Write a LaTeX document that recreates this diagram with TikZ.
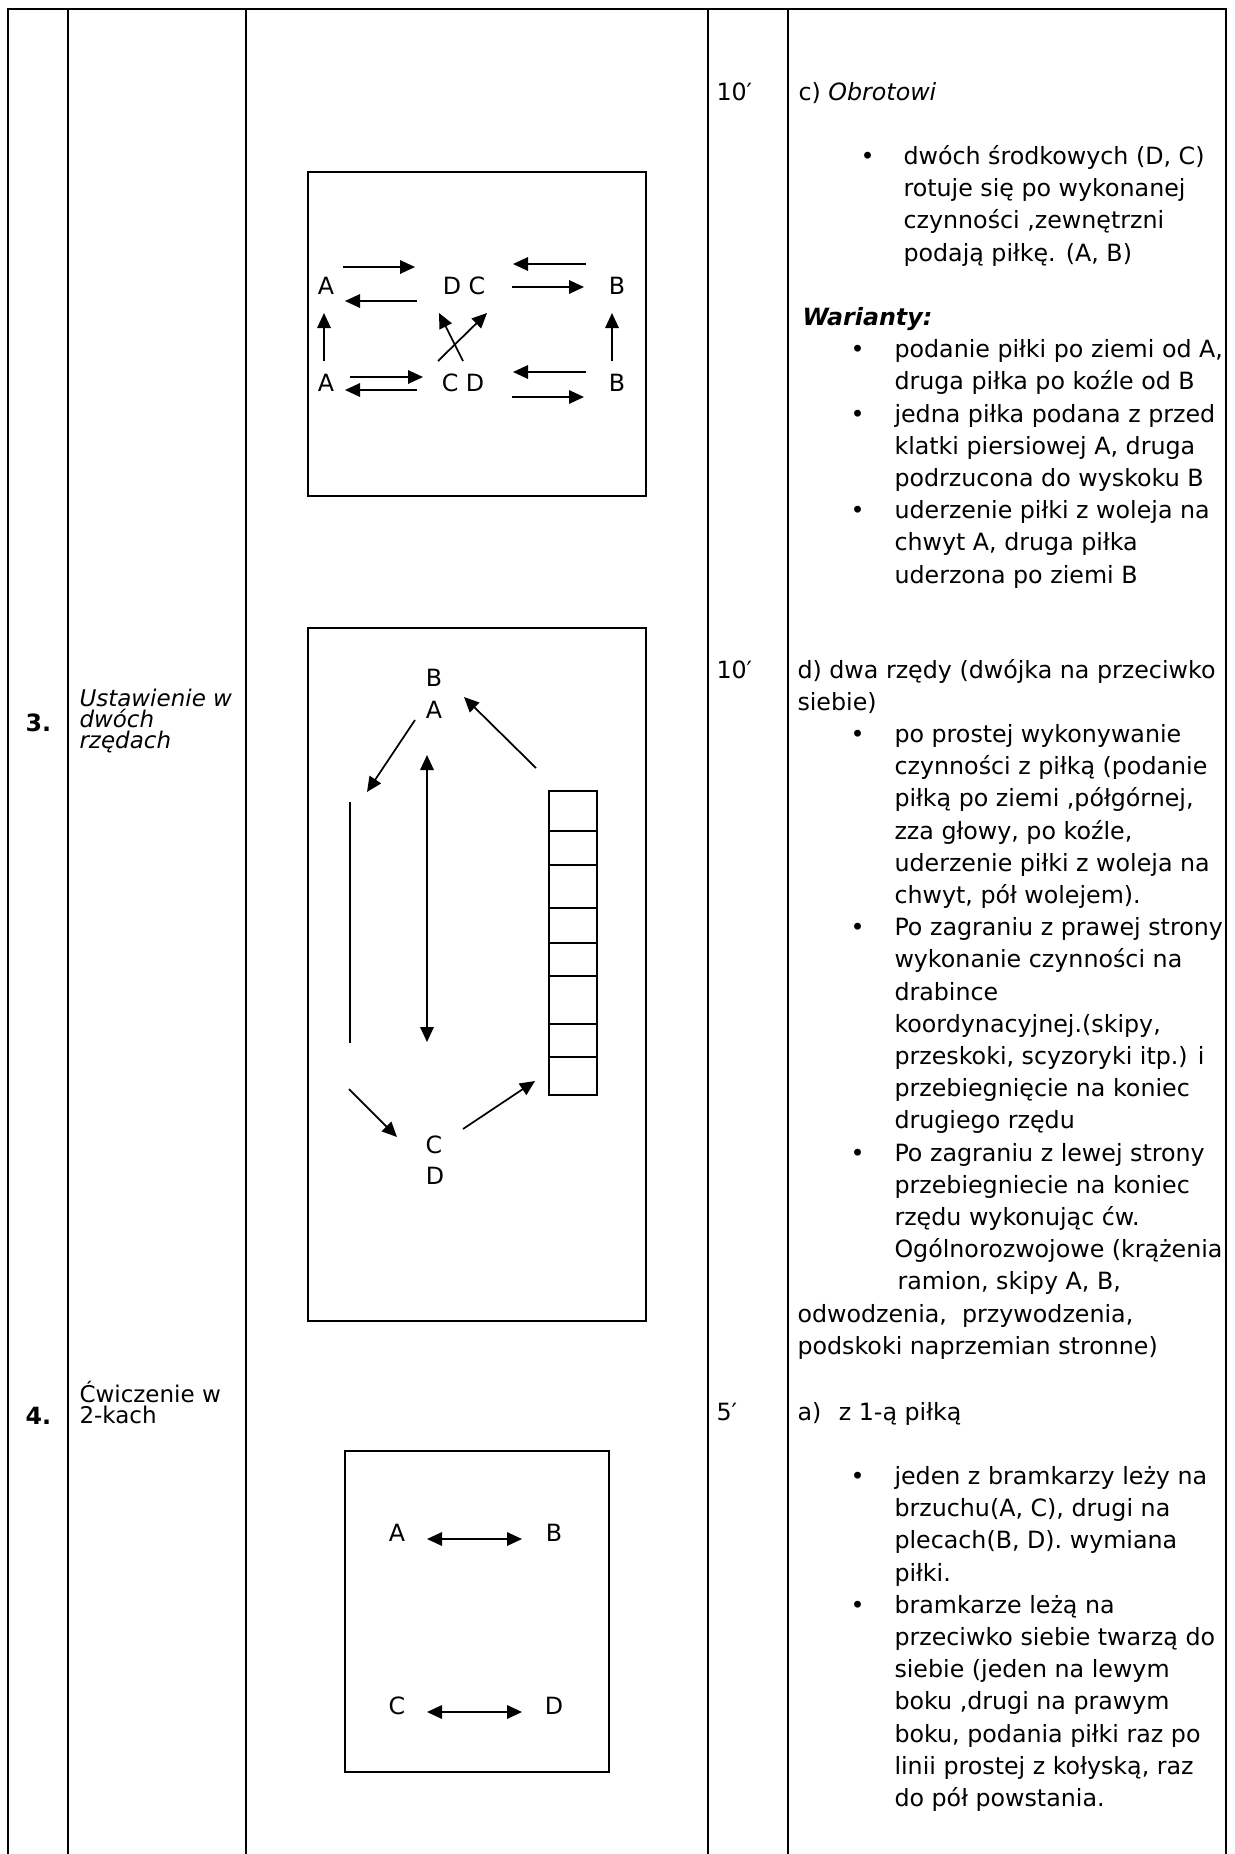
\documentclass[tikz,border=0pt]{standalone}
\usepackage{fontspec}
\setmainfont{DejaVu Sans}
\usetikzlibrary{arrows.meta}
% several lines, baseline of the first one
\newcommand{\lines}[1]{\begin{tabular}[t]{@{}l@{}}#1\end{tabular}}

\begin{document}
\begin{tikzpicture}[x=0.4pt,y=-0.4pt,
        grid/.style={line width=1.05pt},
        field/.style={draw,line width=0.85pt},
        pass/.style={line width=0.7pt,-{Triangle[length=6pt,width=5.4pt]}},
        twoway/.style={line width=0.7pt,{Triangle[length=6pt,width=5.4pt]}-{Triangle[length=6pt,width=5.4pt]}},
        player/.style={inner sep=0pt,font=\fontsize{9.5}{11}\selectfont},
        txt/.style={anchor=base west,inner sep=0pt,font=\fontsize{9.5}{12.88}\selectfont},
        side/.style={anchor=base west,align=left,inner sep=0pt,font=\fontsize{9.2}{8.4}\selectfont},
        dot/.style={anchor=base west,inner sep=0pt,font=\fontsize{9.5}{12.88}\selectfont}
    ]
    \useasboundingbox (0,0) rectangle (1234,1854);

    % table
    \draw[grid] (8,1854) -- (8,9) -- (1226,9) -- (1226,1854);
    \foreach \x in {68,246,708,788}
        \draw[grid] (\x,9) -- (\x,1854);

    % left columns (side nodes sit on their last line)
    \node[side,font=\fontsize{9.5}{12}\selectfont\bfseries] (nr3) at (25,731) {3.};
    \node[side,font=\fontsize{9.2}{8.4}\selectfont\itshape] (ex3) at (79,748) {Ustawienie w\\dwóch\\rzędach};
    \node[side,font=\fontsize{9.5}{12}\selectfont\bfseries] (nr4) at (25,1424) {4.};
    \node[side] (ex4) at (79,1423) {Ćwiczenie w\\2-kach};

    % times
    \node[txt] (t1) at (716,100) {10′};
    \node[txt] (t2) at (716,678) {10′};
    \node[txt] (t3) at (716,1420) {5′};

    % field 1: obrotowi
    \draw[field] (308,172) rectangle (646,496);
    \node[player] (aU) at (326,286) {A};
    \node[player] (dcU) at (464,286) {D C};
    \node[player] (bU) at (617,286) {B};
    \node[player] (aL) at (326,383) {A};
    \node[player] (cdL) at (463,383) {C D};
    \node[player] (bL) at (617,383) {B};
    \coordinate (p1) at (343,267); \coordinate (p2) at (415,267);
    \coordinate (p3) at (417,301); \coordinate (p4) at (345,301);
    \coordinate (p5) at (586,264); \coordinate (p6) at (513,264);
    \coordinate (p7) at (512,287); \coordinate (p8) at (584,287);
    \coordinate (p9) at (324,361); \coordinate (p10) at (324,313);
    \coordinate (p11) at (612,361); \coordinate (p12) at (612,313);
    \coordinate (p13) at (438,361); \coordinate (p14) at (487,313);
    \coordinate (p15) at (463,361); \coordinate (p16) at (439,313);
    \coordinate (p17) at (350,377); \coordinate (p18) at (423,377);
    \coordinate (p19) at (417,390); \coordinate (p20) at (345,390);
    \coordinate (p21) at (586,372); \coordinate (p22) at (513,372);
    \coordinate (p23) at (512,397); \coordinate (p24) at (584,397);
    \foreach \s/\e in {p1/p2,p3/p4,p5/p6,p7/p8,p9/p10,p11/p12,p13/p14,p15/p16,p17/p18,p19/p20,p21/p22,p23/p24}
        \draw[pass] (\s) -- (\e);

    % field 2: dwa rzedy
    \draw[field] (308,628) rectangle (646,1321);
    \node[player] (bTop) at (434,678) {B};
    \node[player] (aTop) at (434,710) {A};
    \node[player] (cBot) at (434,1145) {C};
    \node[player] (dBot) at (435,1176) {D};
    \coordinate (rowTop) at (350,802); \coordinate (rowBot) at (350,1043);
    \draw[line width=0.5pt] (rowTop) -- (rowBot);
    \coordinate (runTop) at (427,755); \coordinate (runBot) at (427,1042);
    \draw[twoway] (runTop) -- (runBot);
    \coordinate (q1) at (415,720); \coordinate (q2) at (367,792);
    \coordinate (q3) at (536,768); \coordinate (q4) at (464,697);
    \coordinate (q5) at (349,1089); \coordinate (q6) at (397,1137);
    \coordinate (q7) at (463,1129); \coordinate (q8) at (535,1081);
    \foreach \s/\e in {q1/q2,q3/q4,q5/q6,q7/q8}
        \draw[pass] (\s) -- (\e);
    % ladder
    \draw[line width=0.7pt] (549,791) rectangle (597,1095);
    \foreach \y in {831,865,908,943,976,1024,1057}
        \draw[line width=0.7pt] (549,\y) -- (597,\y);

    % field 3: dwojki
    \draw[field] (345,1451) rectangle (609,1772);
    \node[player] (aPair) at (397,1533) {A};
    \node[player] (bPair) at (554,1533) {B};
    \node[player] (cPair) at (397,1706) {C};
    \node[player] (dPair) at (554,1706) {D};
    \coordinate (r1) at (427,1539); \coordinate (r2) at (522,1539);
    \coordinate (r3) at (427,1712); \coordinate (r4) at (522,1712);
    \draw[twoway] (r1) -- (r2);
    \draw[twoway] (r3) -- (r4);

    % description: c)
    \node[txt] (c) at (798,100) {c) \textit{Obrotowi}};
    \node[dot] (c1dot) at (860,164.4) {\textbullet};
    \node[txt] (c1) at (903,164.4) {\lines{dwóch środkowych (D, C)\\rotuje się po wykonanej\\czynności ,zewnętrzni\\podają piłkę. (A, B)}};
    \node[txt] (war) at (802,325.4) {\textbf{\textit{Warianty:}}};
    \node[dot] (w1dot) at (850,357.6) {\textbullet};
    \node[txt] (w1) at (894,357.6) {\lines{podanie piłki po ziemi od A,\\druga piłka po koźle od B}};
    \node[dot] (w2dot) at (850,422) {\textbullet};
    \node[txt] (w2) at (894,422) {\lines{jedna piłka podana z przed\\klatki piersiowej A, druga\\podrzucona do wyskoku B}};
    \node[dot] (w3dot) at (850,518.6) {\textbullet};
    \node[txt] (w3) at (894,518.6) {\lines{uderzenie piłki z woleja na\\chwyt A, druga piłka\\uderzona po ziemi B}};

    % description: d)
    \node[txt] (d) at (797,678) {\lines{d) dwa rzędy (dwójka na przeciwko\\siebie)}};
    \node[dot] (d1dot) at (850,742.4) {\textbullet};
    \node[txt] (d1) at (894,742.4) {\lines{po prostej wykonywanie\\czynności z piłką (podanie\\piłką po ziemi ,półgórnej,\\zza głowy, po koźle,\\uderzenie piłki z woleja na\\chwyt, pół wolejem).}};
    \node[dot] (d2dot) at (850,935.6) {\textbullet};
    \node[txt] (d2) at (894,935.6) {\lines{Po zagraniu z prawej strony\\wykonanie czynności na\\drabince\\koordynacyjnej.(skipy,\\przeskoki, scyzoryki itp.) i\\przebiegnięcie na koniec\\drugiego rzędu}};
    \node[dot] (d3dot) at (850,1161) {\textbullet};
    \node[txt] (d3) at (894,1161) {\lines{Po zagraniu z lewej strony\\przebiegniecie na koniec\\rzędu wykonując ćw.\\Ogólnorozwojowe (krążenia\\\hspace{1.2pt}ramion, skipy A, B,}};
    \node[txt] (d3b) at (797,1322) {\lines{odwodzenia,\ \ przywodzenia,\\podskoki naprzemian stronne)}};

    % description: a)
    \node[txt] (a) at (797,1420) {a)\hspace{4pt} z 1-ą piłką};
    \node[dot] (a1dot) at (850,1484.4) {\textbullet};
    \node[txt] (a1) at (894,1484.4) {\lines{jeden z bramkarzy leży na\\brzuchu(A, C), drugi na\\plecach(B, D). wymiana\\piłki.}};
    \node[dot] (a2dot) at (850,1613.2) {\textbullet};
    \node[txt] (a2) at (894,1613.2) {\lines{bramkarze leżą na\\przeciwko siebie twarzą do\\siebie (jeden na lewym\\boku ,drugi na prawym\\boku, podania piłki raz po\\linii prostej z kołyską, raz\\do pół powstania.}};
\end{tikzpicture}
\end{document}
